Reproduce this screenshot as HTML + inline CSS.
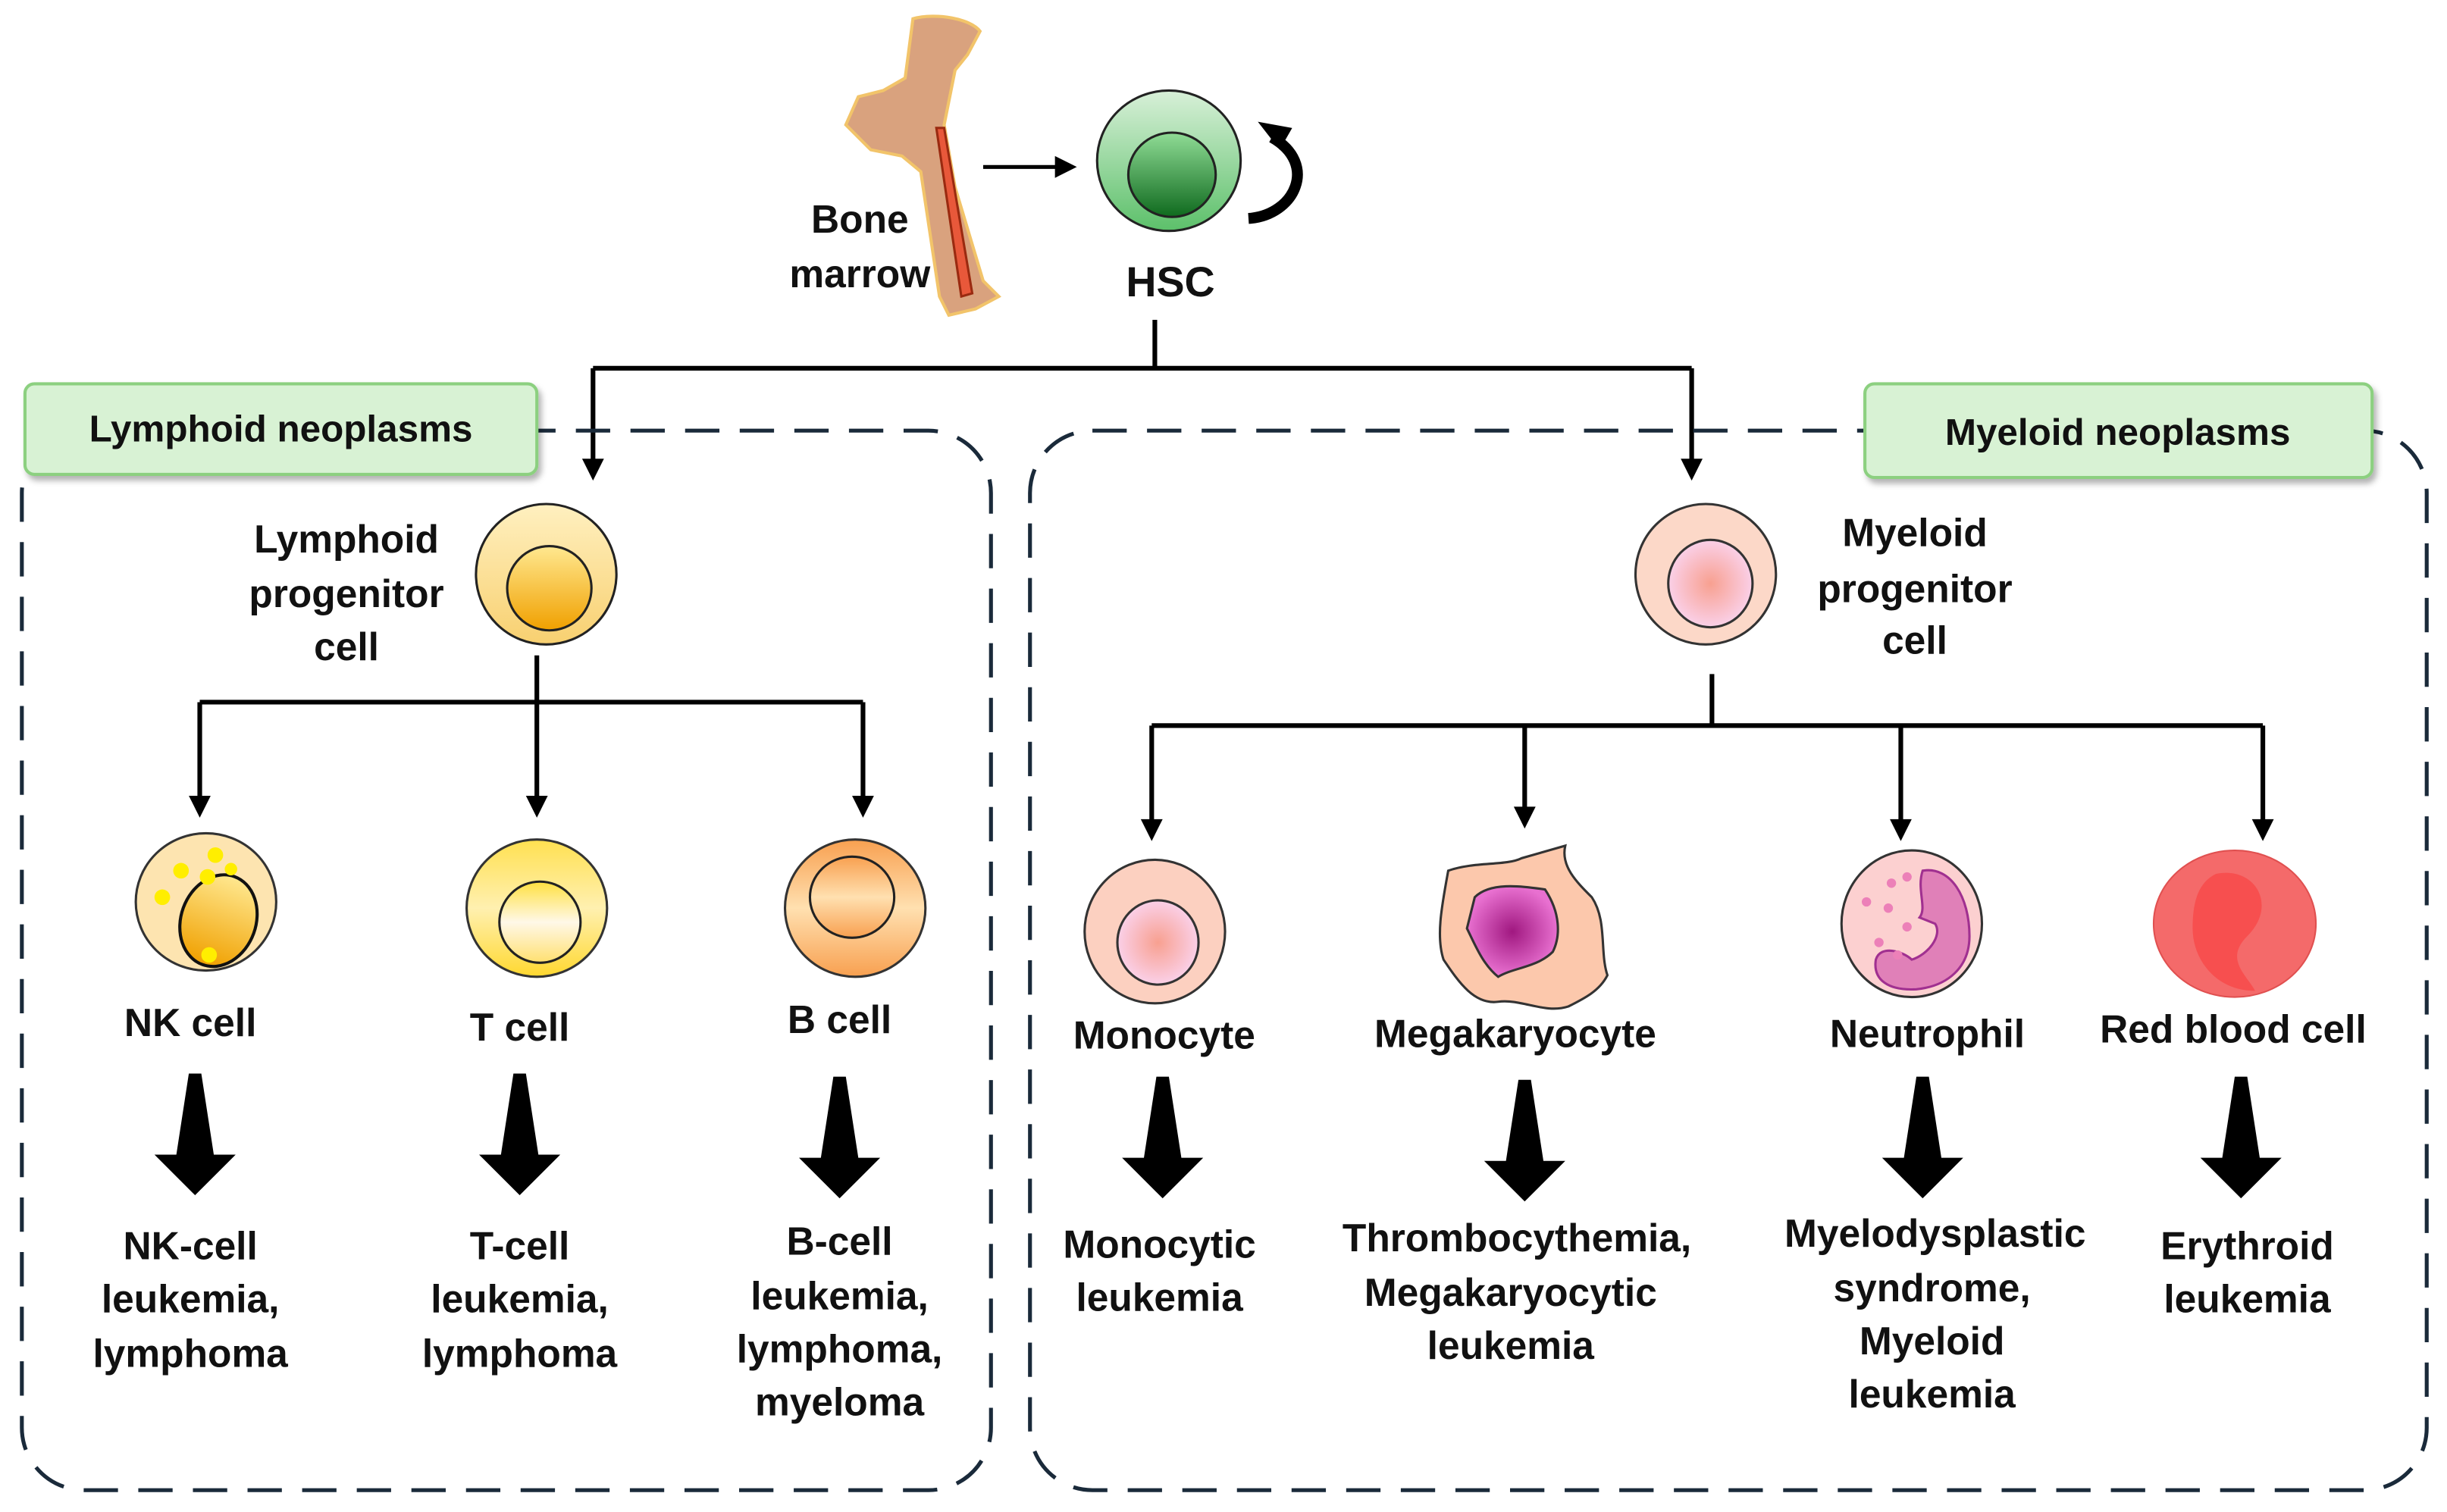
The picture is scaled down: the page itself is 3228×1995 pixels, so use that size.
<!DOCTYPE html>
<html><head><meta charset="utf-8"><style>
html,body{margin:0;padding:0;background:#fff;}
svg{display:block;}
text{font-family:"Liberation Sans",sans-serif;font-weight:bold;font-size:25px;fill:#111;text-anchor:middle;}
</style></head><body>
<svg width="3228" height="1995" viewBox="0 0 1568 969" preserveAspectRatio="none" xmlns="http://www.w3.org/2000/svg">
<defs>
<linearGradient id="gG" x1="0" y1="0" x2="0" y2="1"><stop offset="0" stop-color="#d8f0d8"/><stop offset="1" stop-color="#5cc06a"/></linearGradient>
<linearGradient id="gGn" x1="0" y1="0" x2="0" y2="1"><stop offset="0" stop-color="#90dc96"/><stop offset="1" stop-color="#0f6a1e"/></linearGradient>
<linearGradient id="gY" x1="0" y1="0" x2="0" y2="1"><stop offset="0" stop-color="#fff0c0"/><stop offset="1" stop-color="#f8d070"/></linearGradient>
<linearGradient id="gYn" x1="0" y1="0" x2="0" y2="1"><stop offset="0" stop-color="#ffe890"/><stop offset="1" stop-color="#f0a000"/></linearGradient>
<linearGradient id="gT" x1="0" y1="0" x2="0" y2="1"><stop offset="0" stop-color="#ffe050"/><stop offset="0.5" stop-color="#fff0b0"/><stop offset="1" stop-color="#ffd830"/></linearGradient>
<linearGradient id="gTn" x1="0" y1="0" x2="0" y2="1"><stop offset="0" stop-color="#ffe040"/><stop offset="0.5" stop-color="#fff8e8"/><stop offset="1" stop-color="#ffe070"/></linearGradient>
<linearGradient id="gB" x1="0" y1="0" x2="0" y2="1"><stop offset="0" stop-color="#f8a050"/><stop offset="0.5" stop-color="#ffe0b0"/><stop offset="1" stop-color="#f8a050"/></linearGradient>
<radialGradient id="gPn"><stop offset="0" stop-color="#f8a090"/><stop offset="1" stop-color="#fad0e8"/></radialGradient>
<radialGradient id="gM"><stop offset="0" stop-color="#a01880"/><stop offset="1" stop-color="#e870d0"/></radialGradient>
<filter id="sh" x="-10%" y="-20%" width="130%" height="150%"><feDropShadow dx="2" dy="3" stdDeviation="2" flood-color="#000" flood-opacity="0.3"/></filter>
</defs>

<!-- Bone -->
<path d="M585,12 C600,8 622,12 628,20 L620,35 L612,45 L605,80 L612,120 L630,180 L640,190 L625,198 L608,202 L602,190 L590,110 L578,100 L558,96 L542,80 L550,62 L566,58 L580,50 L582,35 Z" fill="#d9a27e" stroke="#f2c46a" stroke-width="2"/>
<path d="M600,82 L605,82 L623,188 L616,190 Z" fill="#e8583a" stroke="#9a2a10" stroke-width="1.5"/>
<text x="551" y="149">Bone</text>
<text x="551" y="184">marrow</text>
<line x1="630" y1="107" x2="678" y2="107" stroke="#000" stroke-width="2.5"/>
<path d="M676,100 L690,107 L676,114 Z" fill="#000"/>

<!-- HSC -->
<ellipse cx="749" cy="103" rx="46" ry="45" fill="url(#gG)" stroke="#222" stroke-width="1.5"/>
<ellipse cx="751" cy="112" rx="28" ry="27" fill="url(#gGn)" stroke="#222" stroke-width="1.5"/>
<path d="M800,140 C830,138 845,105 815,88" fill="none" stroke="#000" stroke-width="7"/>
<path d="M806,78 L820,96 L828,82 Z" fill="#000"/>
<text x="750" y="190" style="font-size:27px">HSC</text>

<!-- top connectors -->
<path d="M740,205 V236 M380,236 H1084 M380,236 V296 M1084,236 V296" stroke="#000" stroke-width="3" fill="none"/>
<g fill="#000">
<path d="M373,294 L387,294 L380,308 Z"/>
<path d="M1077,294 L1091,294 L1084,308 Z"/>
</g>

<!-- dashed boxes -->
<rect x="14" y="276" width="621" height="679" rx="40" fill="none" stroke="#1a2a3a" stroke-width="2.5" stroke-dasharray="22,13"/>
<rect x="660" y="276" width="895" height="679" rx="40" fill="none" stroke="#1a2a3a" stroke-width="2.5" stroke-dasharray="22,13"/>
<rect x="16" y="246" width="328" height="58" rx="6" fill="#d8f2d4" stroke="#8cd080" stroke-width="2" filter="url(#sh)"/>
<text x="180" y="283" style="font-size:24px">Lymphoid neoplasms</text>
<rect x="1195" y="246" width="325" height="60" rx="6" fill="#d8f2d4" stroke="#8cd080" stroke-width="2" filter="url(#sh)"/>
<text x="1357" y="285" style="font-size:24px">Myeloid neoplasms</text>

<!-- Lymphoid progenitor -->
<ellipse cx="350" cy="368" rx="45" ry="45" fill="url(#gY)" stroke="#222" stroke-width="1.5"/>
<ellipse cx="352" cy="377" rx="27" ry="27" fill="url(#gYn)" stroke="#222" stroke-width="1.5"/>
<text x="222" y="354">Lymphoid</text>
<text x="222" y="389">progenitor</text>
<text x="222" y="423">cell</text>
<path d="M344,420 V512 M128,450 H553 M128,450 V512 M553,450 V512" stroke="#000" stroke-width="3" fill="none"/>
<g fill="#000">
<path d="M121,510 L135,510 L128,524 Z"/>
<path d="M337,510 L351,510 L344,524 Z"/>
<path d="M546,510 L560,510 L553,524 Z"/>
</g>

<!-- NK cell -->
<ellipse cx="132" cy="578" rx="45" ry="44" fill="#fde4b0" stroke="#333" stroke-width="1.5"/>
<ellipse cx="140" cy="590" rx="24" ry="30" transform="rotate(20 140 590)" fill="url(#gYn)" stroke="#111" stroke-width="2"/>
<g fill="#ffee00"><circle cx="138" cy="548" r="5"/><circle cx="116" cy="558" r="5"/><circle cx="133" cy="562" r="5"/><circle cx="148" cy="557" r="4"/><circle cx="104" cy="575" r="5"/><circle cx="134" cy="612" r="5"/></g>
<!-- T cell -->
<ellipse cx="344" cy="582" rx="45" ry="44" fill="url(#gT)" stroke="#333" stroke-width="1.5"/>
<ellipse cx="346" cy="591" rx="26" ry="26" fill="url(#gTn)" stroke="#222" stroke-width="1.5"/>
<!-- B cell -->
<ellipse cx="548" cy="582" rx="45" ry="44" fill="url(#gB)" stroke="#333" stroke-width="1.5"/>
<ellipse cx="546" cy="575" rx="27" ry="26" fill="url(#gB)" stroke="#222" stroke-width="1.5"/>
<text x="122" y="664">NK cell</text>
<text x="333" y="667">T cell</text>
<text x="538" y="662">B cell</text>

<!-- big arrows -->
<g fill="#000">
<path d="M121,688 L129,688 L137,740 L151,740 L125,766 L99,740 L113,740 Z"/>
<path d="M329,688 L337,688 L345,740 L359,740 L333,766 L307,740 L321,740 Z"/>
<path d="M534,690 L542,690 L550,742 L564,742 L538,768 L512,742 L526,742 Z"/>
<path d="M741,690 L749,690 L757,742 L771,742 L745,768 L719,742 L733,742 Z"/>
<path d="M973,692 L981,692 L989,744 L1003,744 L977,770 L951,744 L965,744 Z"/>
<path d="M1228,690 L1236,690 L1244,742 L1258,742 L1232,768 L1206,742 L1220,742 Z"/>
<path d="M1432,690 L1440,690 L1448,742 L1462,742 L1436,768 L1410,742 L1424,742 Z"/>
</g>

<text x="122" y="807">NK-cell</text>
<text x="122" y="841">leukemia,</text>
<text x="122" y="876">lymphoma</text>
<text x="333" y="807">T-cell</text>
<text x="333" y="841">leukemia,</text>
<text x="333" y="876">lymphoma</text>
<text x="538" y="804">B-cell</text>
<text x="538" y="839">leukemia,</text>
<text x="538" y="873">lymphoma,</text>
<text x="538" y="907">myeloma</text>

<!-- Myeloid progenitor -->
<ellipse cx="1093" cy="368" rx="45" ry="45" fill="#fcd8c8" stroke="#333" stroke-width="1.5"/>
<ellipse cx="1096" cy="374" rx="27" ry="28" fill="url(#gPn)" stroke="#333" stroke-width="1.5"/>
<text x="1227" y="350">Myeloid</text>
<text x="1227" y="386">progenitor</text>
<text x="1227" y="419">cell</text>
<path d="M1097,432 V465 M738,465 H1450 M738,465 V527 M977,465 V519 M1218,465 V527 M1450,465 V527" stroke="#000" stroke-width="3" fill="none"/>
<g fill="#000">
<path d="M731,525 L745,525 L738,539 Z"/>
<path d="M970,517 L984,517 L977,531 Z"/>
<path d="M1211,525 L1225,525 L1218,539 Z"/>
<path d="M1443,525 L1457,525 L1450,539 Z"/>
</g>

<!-- Monocyte -->
<ellipse cx="740" cy="597" rx="45" ry="46" fill="#fcd0c0" stroke="#333" stroke-width="1.5"/>
<ellipse cx="742" cy="604" rx="26" ry="27" fill="url(#gPn)" stroke="#333" stroke-width="1.5"/>
<!-- Megakaryocyte -->
<path d="M928,558 C945,552 965,555 975,550 L1003,542 C1000,555 1010,565 1020,575 C1030,590 1025,610 1030,625 C1025,635 1015,640 1005,645 C990,650 975,640 960,642 C945,644 935,630 925,615 C920,600 924,580 928,558 Z" fill="#fcc8ac" stroke="#333" stroke-width="1.5"/>
<path d="M945,575 C955,565 975,568 990,570 C1000,585 1000,600 995,610 C985,620 970,620 960,626 C950,618 945,605 940,595 Z" fill="url(#gM)" stroke="#333" stroke-width="1.5"/>
<!-- Neutrophil -->
<ellipse cx="1225" cy="592" rx="45" ry="47" fill="#fcd0d0" stroke="#333" stroke-width="1.5"/>
<path d="M1232,558 C1250,555 1262,575 1262,600 C1262,620 1248,632 1228,634 C1210,635 1200,628 1202,615 C1205,605 1220,610 1225,615 C1235,612 1245,600 1240,592 L1230,588 C1235,582 1228,570 1232,558 Z" fill="#e080b8" stroke="#a03090" stroke-width="1.5"/>
<g fill="#ec80b8"><circle cx="1212" cy="566" r="3"/><circle cx="1222" cy="562" r="3"/><circle cx="1196" cy="578" r="3"/><circle cx="1210" cy="582" r="3"/><circle cx="1222" cy="594" r="3"/><circle cx="1204" cy="604" r="3"/><circle cx="1216" cy="612" r="3"/></g>
<!-- RBC -->
<ellipse cx="1432" cy="592" rx="52" ry="47" fill="#f46a6a" stroke="#e05050" stroke-width="1"/>
<path d="M1420,560 C1445,555 1460,580 1440,600 C1425,615 1440,625 1445,635 C1420,635 1405,615 1405,595 C1405,575 1410,565 1420,560 Z" fill="#f84848" opacity="0.8"/>

<text x="746" y="672">Monocyte</text>
<text x="971" y="671">Megakaryocyte</text>
<text x="1235" y="671">Neutrophil</text>
<text x="1431" y="668">Red blood cell</text>

<text x="743" y="806">Monocytic</text>
<text x="743" y="840">leukemia</text>
<text x="972" y="802">Thrombocythemia,</text>
<text x="968" y="837">Megakaryocytic</text>
<text x="968" y="871">leukemia</text>
<text x="1240" y="799">Myelodysplastic</text>
<text x="1238" y="834">syndrome,</text>
<text x="1238" y="868">Myeloid</text>
<text x="1238" y="902">leukemia</text>
<text x="1440" y="807">Erythroid</text>
<text x="1440" y="841">leukemia</text>
</svg>
</body></html>
